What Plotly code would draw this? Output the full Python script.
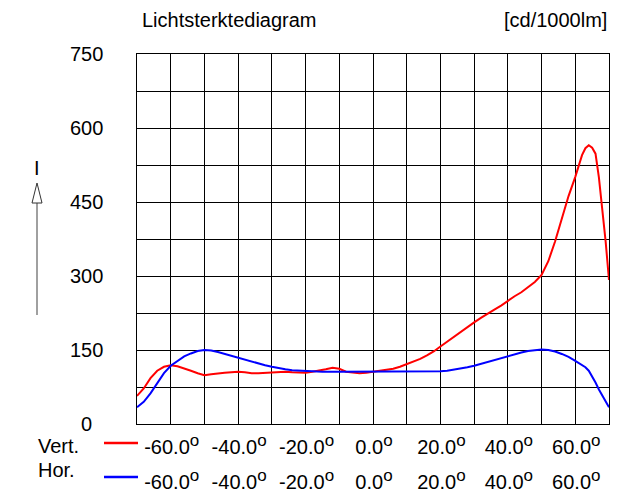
import plotly.graph_objects as go

# ---------------- data ----------------
angles_vert = [-70, -68, -66, -64, -62, -60, -58, -56, -54, -52, -50, -48, -46, -44, -42, -40,
               -38, -36, -34, -32, -30, -28, -26, -24, -22, -20, -18, -16, -14, -12, -10, -8,
               -6, -4, -2, 0, 2, 4, 6, 8, 10, 12, 14, 16, 18, 20, 22, 24, 26, 28, 30, 32, 34,
               36, 38, 40, 42, 44, 46, 48, 50, 52, 54, 56, 58, 60, 62, 63, 64, 65, 66, 67,
               68, 69, 70]
vert_cd = [57, 72, 93, 108, 116, 119, 117, 113, 108, 103, 99, 101, 103, 104, 105, 106,
           105, 103, 103, 104, 105, 106, 106, 105, 104, 104, 106, 108, 111, 114, 112, 106,
           104, 103, 104, 106, 107, 109, 112, 116, 121, 126, 132, 139, 147, 157, 167, 176,
           186, 196, 206, 215, 224, 232, 240, 250, 259, 267, 277, 288, 302, 330, 370, 418,
           462, 501, 545, 559, 565, 560, 548, 500, 440, 370, 292]

angles_hor = [-70, -68, -66, -64, -62, -60, -58, -56, -54, -52, -50, -48, -46, -44, -42, -40,
              -38, -36, -34, -32, -30, -28, -26, -24, -22, -20, -15, -10, -5, 0, 5, 10, 15,
              20, 22, 24, 26, 28, 30, 32, 34, 36, 38, 40, 42, 44, 46, 48, 50, 52, 54, 56,
              58, 60, 62, 63, 64, 65, 66, 67, 68, 69, 70]
hor_cd = [34, 45, 62, 83, 103, 118, 128, 137, 143, 148, 150, 149, 146, 142, 139, 135,
          131, 127, 123, 119, 116, 113, 111, 109, 108, 107, 106, 106, 106, 106, 106, 106, 106,
          107, 108, 110, 112, 115, 118, 122, 126, 130, 134, 138, 142, 145, 148, 150, 151, 150,
          147, 142, 136, 128, 120, 115, 108, 97, 84, 70, 57, 45, 34]

x_tick_vals = [-60, -40, -20, 0, 20, 40, 60]
x_tick_labels = ["-60.0", "-40.0", "-20.0", "0.0", "20.0", "40.0", "60.0"]
y_tick_vals = [0, 150, 300, 450, 600, 750]
y_tick_labels = ["0", "150", "300", "450", "600", "750"]

series_names = ["Vert.", "Hor."]
series_colors = ["#ff0000", "#0000ff"]

# ---------------- layout helpers ----------------
# The page body adds an 8px offset; the figure is sized to fill the rest of the window.
OFF = 8
W, H = 643 - OFF, 495 - OFF
L, R, T, B = 137 - OFF, 34, 54 - OFF, 0
PW = W - L - R
PH = H - T - B
FONT = "Liberation Sans, Arial, sans-serif"


def px(x):  # window pixel -> paper x
    return (x - OFF - L) / PW


def py(y):  # window pixel -> paper y
    return (H - B - (y - OFF)) / PH


deg = "<sup><span style='font-size:17px'>o</span></sup>"
tick_text = [t + deg for t in x_tick_labels]

fig = go.Figure()
fig.add_trace(go.Scatter(x=angles_vert, y=vert_cd, mode="lines", name=series_names[0],
                         line=dict(color=series_colors[0], width=2), xaxis="x", yaxis="y"))
fig.add_trace(go.Scatter(x=angles_hor, y=hor_cd, mode="lines", name=series_names[1],
                         line=dict(color=series_colors[1], width=2), xaxis="x2", yaxis="y"))

common_x = dict(range=[-70, 70], tickmode="array", tickvals=x_tick_vals, ticktext=tick_text,
                ticks="", tickfont=dict(family=FONT, size=20, color="black"),
                zeroline=False, automargin=False, fixedrange=True, ticklabelshift=1)

fig.update_layout(
    width=W, height=H,
    margin=dict(l=L, r=R, t=T, b=B, pad=0),
    paper_bgcolor="white", plot_bgcolor="white",
    showlegend=False,
    font=dict(family=FONT, size=20, color="black"),
    xaxis=dict(**common_x, anchor="y", showline=True, mirror=True, linecolor="black",
               linewidth=1, showgrid=True, gridcolor="black", gridwidth=1,
               minor=dict(dtick=10, tick0=-70, showgrid=True, gridcolor="black",
                          gridwidth=1, ticks=""),
               ticklabelstandoff=5),
    xaxis2=dict(**common_x, overlaying="x", anchor="free", position=py(466),
                showline=False, showgrid=False, ticklabelstandoff=2),
    yaxis=dict(range=[0, 750], domain=[py(424), 1], dtick=75, tick0=0, showgrid=True,
               gridcolor="black", gridwidth=1, showticklabels=False, ticks="",
               showline=True, mirror=True, linecolor="black", linewidth=1,
               zeroline=False, automargin=False, fixedrange=True),
)

annotations = []
for v, t in zip(y_tick_vals, y_tick_labels):
    annotations.append(dict(x=px(86), y=v, xref="paper", yref="y", text=t, showarrow=False,
                            xanchor="center", yanchor="middle",
                            font=dict(family=FONT, size=20, color="black")))
annotations.append(dict(x=px(141), y=py(OFF), xref="paper", yref="paper",
                        text="Lichtsterktediagram", showarrow=False, xanchor="left",
                        yanchor="top", borderpad=0,
                        font=dict(family=FONT, size=20, color="black")))
annotations.append(dict(x=px(608), y=py(OFF), xref="paper", yref="paper",
                        text="[cd/1000lm]", showarrow=False, xanchor="right",
                        yanchor="top", borderpad=0,
                        font=dict(family=FONT, size=20, color="black")))
annotations.append(dict(x=px(37), y=py(168), xref="paper", yref="paper", text="I",
                        showarrow=False, xanchor="center", yanchor="middle",
                        font=dict(family=FONT, size=20, color="black")))
for name, yy in zip(series_names, [446, 470]):
    annotations.append(dict(x=px(36), y=py(yy), xref="paper", yref="paper", text=name,
                            showarrow=False, xanchor="left", yanchor="middle",
                            font=dict(family=FONT, size=20, color="black")))
fig.update_layout(annotations=annotations)

shapes = []
# arrow shaft and hollow head
shapes.append(dict(type="line", xref="paper", yref="paper", x0=px(37), x1=px(37),
                   y0=py(315), y1=py(203), line=dict(color="#808080", width=1.5)))
shapes.append(dict(type="path", xref="paper", yref="paper",
                   path=f"M {px(32)},{py(203)} L {px(42)},{py(203)} L {px(37)},{py(183)} Z",
                   fillcolor="white", line=dict(color="#333333", width=1)))
# legend line samples
for c, yy in zip(series_colors, [443, 477]):
    shapes.append(dict(type="line", xref="paper", yref="paper", x0=px(104), x1=px(138),
                       y0=py(yy), y1=py(yy), line=dict(color=c, width=2.5)))
fig.update_layout(shapes=shapes)

fig.write_html("out.html")
